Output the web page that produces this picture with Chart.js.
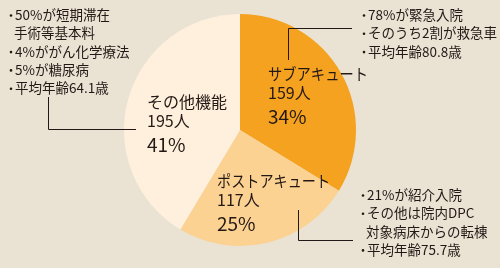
<!DOCTYPE html>
<html lang="ja">
<head>
  <meta charset="UTF-8">
  <title>機能別内訳</title>
  <script src="https://cdn.jsdelivr.net/npm/chart.js"></script>
  <style>
    body { margin: 0; background: #EAE3D4; }
    canvas { display: block; }
  </style>
</head>
<body>
  <canvas id="pie" width="500" height="268"></canvas>

  <script>
    // データ
    const labels = ['サブアキュート', 'ポストアキュート', 'その他機能'];
    const counts = [159, 117, 195];
    const percents = [34, 25, 41];
    const colors = ['#F4A21F', '#FBD292', '#FEF0DC'];

    const FONT = '"Noto Sans CJK JP", "Noto Sans", sans-serif';
    const INK = '#231815';

    // 各スライスのラベル位置（wはカタカナを詰めるための最大幅）
    const sliceText = [
      { x: 268, y: 80, w: 100 },
      { x: 217, y: 187, w: 113 },
      { x: 147, y: 108, w: 84 }
    ];

    // 注釈テキスト（先頭が「*」なら箇条書きの点を付ける）
    const notes = [
      { x: 9, y: 15, lines: ['*50%が短期滞在', '手術等基本料', '*4%ががん化学療法', '*5%が糖尿病', '*平均年齢64.1歳'] },
      { x: 362, y: 15, lines: ['*78%が緊急入院', '*そのうち2割が救急車', '*平均年齢80.8歳'] },
      { x: 361, y: 195, lines: ['*21%が紹介入院', '*その他は院内DPC', '対象病床からの転棟', '*平均年齢75.7歳'] }
    ];
    const leaders = [
      [[48.5, 97], [48.5, 129.5], [136, 129.5]],
      [[288.5, 60], [288.5, 28.5], [352, 28.5]],
      [[298.5, 210], [298.5, 240.5], [353, 240.5]]
    ];

    const labelPlugin = {
      id: 'labels',
      afterDraw(chart) {
        const ctx = chart.ctx;
        ctx.save();
        ctx.fillStyle = INK;
        ctx.textAlign = 'left';
        ctx.textBaseline = 'alphabetic';
        labels.forEach((name, i) => {
          const p = sliceText[i];
          ctx.font = '16px ' + FONT;
          ctx.fillText(name, p.x, p.y, p.w);
          ctx.fillText(counts[i] + '人', p.x, p.y + 19);
          ctx.font = '19px ' + FONT;
          ctx.fillText(percents[i] + '%', p.x, p.y + 44);
        });

        ctx.font = '13.5px ' + FONT;
        ctx.textBaseline = 'middle';
        notes.forEach(n => {
          n.lines.forEach((t, j) => {
            const y = n.y + j * 18.3;
            if (t[0] === '*') {
              ctx.beginPath();
              ctx.arc(n.x + 2, y + 0.5, 1.3, 0, Math.PI * 2);
              ctx.fill();
              ctx.fillText(t.slice(1), n.x + 6, y);
            } else {
              ctx.fillText(t, n.x + 5, y);
            }
          });
        });

        ctx.strokeStyle = INK;
        ctx.lineWidth = 1;
        leaders.forEach(pts => {
          ctx.beginPath();
          pts.forEach((pt, k) => k ? ctx.lineTo(pt[0], pt[1]) : ctx.moveTo(pt[0], pt[1]));
          ctx.stroke();
        });
        ctx.restore();
      }
    };

    new Chart(document.getElementById('pie'), {
      type: 'pie',
      data: {
        labels: labels,
        datasets: [{
          data: counts,
          backgroundColor: colors,
          borderWidth: 0
        }]
      },
      options: {
        responsive: false,
        animation: false,
        layout: { padding: { left: 124, right: 144, top: 14, bottom: 22 } },
        plugins: {
          legend: { display: false },
          tooltip: { enabled: false }
        }
      },
      plugins: [labelPlugin]
    });
  </script>
</body>
</html>
